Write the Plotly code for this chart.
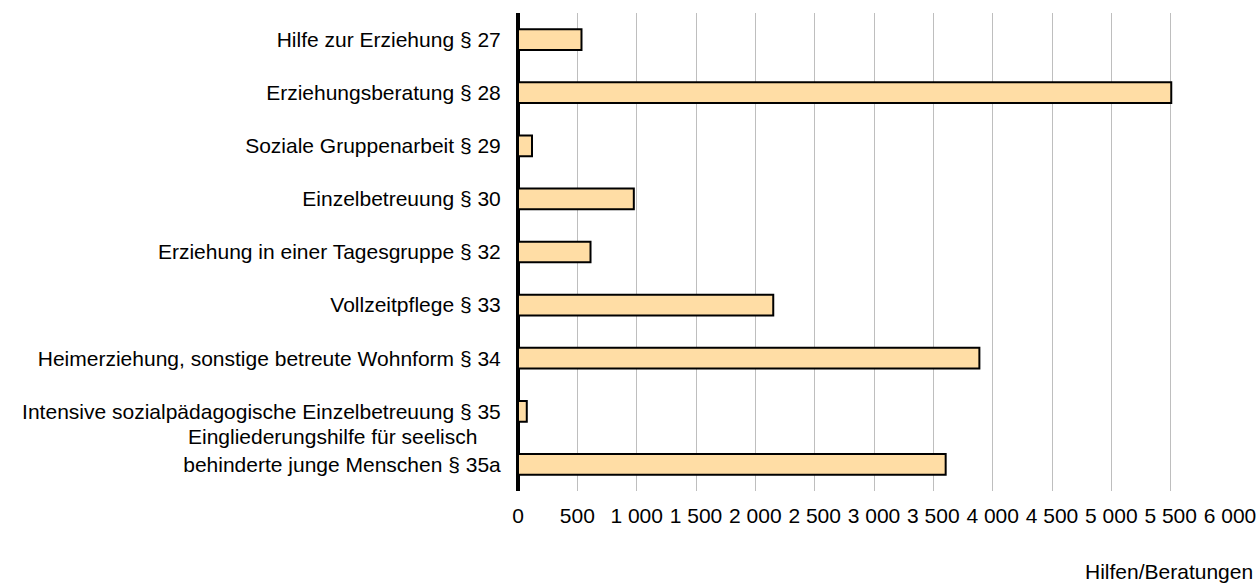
import plotly.graph_objects as go

categories = [
    "Hilfe zur Erziehung § 27",
    "Erziehungsberatung § 28",
    "Soziale Gruppenarbeit § 29",
    "Einzelbetreuung § 30",
    "Erziehung in einer Tagesgruppe § 32",
    "Vollzeitpflege § 33",
    "Heimerziehung, sonstige betreute Wohnform § 34",
    "Intensive sozialpädagogische Einzelbetreuung § 35",
    "Eingliederungshilfe für seelisch\u00a0\u00a0\u00a0\u00a0<br>behinderte junge Menschen § 35a<br>\u00a0",
]
values = [535, 5505, 118, 976, 611, 2151, 3888, 74, 3604]

tick_values = [0, 500, 1000, 1500, 2000, 2500, 3000, 3500, 4000, 4500, 5000, 5500, 6000]
tick_labels = ["0", "500", "1 000", "1 500", "2 000", "2 500", "3 000", "3 500",
               "4 000", "4 500", "5 000", "5 500", "6 000"]

axis_title = "Hilfen/Beratungen"

W, H = 1259, 584
L, R, T, B = 518, 29, 13, 93
FONT = "Liberation Sans, Arial, sans-serif"
FS = 21

fig = go.Figure(
    go.Bar(
        x=values,
        y=categories,
        orientation="h",
        marker=dict(color="#FFDDA5", line=dict(color="#000000", width=2)),
        hoverinfo="x+y",
    )
)

fig.update_layout(
    width=W,
    height=H,
    autosize=False,
    margin=dict(l=L, r=R, t=T, b=B, pad=0, autoexpand=False),
    paper_bgcolor="white",
    plot_bgcolor="white",
    bargap=0.61,
    showlegend=False,
    font=dict(family=FONT, size=FS, color="#000000"),
    xaxis=dict(
        range=[0, 6000],
        tickmode="array",
        tickvals=tick_values,
        ticktext=tick_labels,
        showgrid=True,
        gridcolor="#BEBEBE",
        gridwidth=1,
        zeroline=True,
        zerolinecolor="#000000",
        zerolinewidth=4,
        showline=False,
        ticks="outside",
        ticklen=6,
        tickcolor="rgba(0,0,0,0)",
        tickfont=dict(family=FONT, size=FS, color="#000000"),
        automargin=False,
        fixedrange=True,
    ),
    yaxis=dict(
        categoryorder="array",
        categoryarray=categories,
        autorange="reversed",
        showgrid=False,
        zeroline=False,
        showline=False,
        ticks="outside",
        ticklen=12,
        tickcolor="rgba(0,0,0,0)",
        tickfont=dict(family=FONT, size=FS, color="#000000"),
        automargin=False,
        fixedrange=True,
    ),
    annotations=[
        dict(
            text=axis_title,
            xref="paper",
            yref="paper",
            x=(1255 - L) / (W - L - R),
            y=(H - B - 571) / (H - B - T),
            xanchor="right",
            yanchor="middle",
            showarrow=False,
            font=dict(family=FONT, size=FS, color="#000000"),
        )
    ],
)

fig.write_html(
    "out.html",
    config={"displayModeBar": False, "responsive": False},
    post_script="document.body.style.margin='0';document.body.style.overflow='hidden';",
)
